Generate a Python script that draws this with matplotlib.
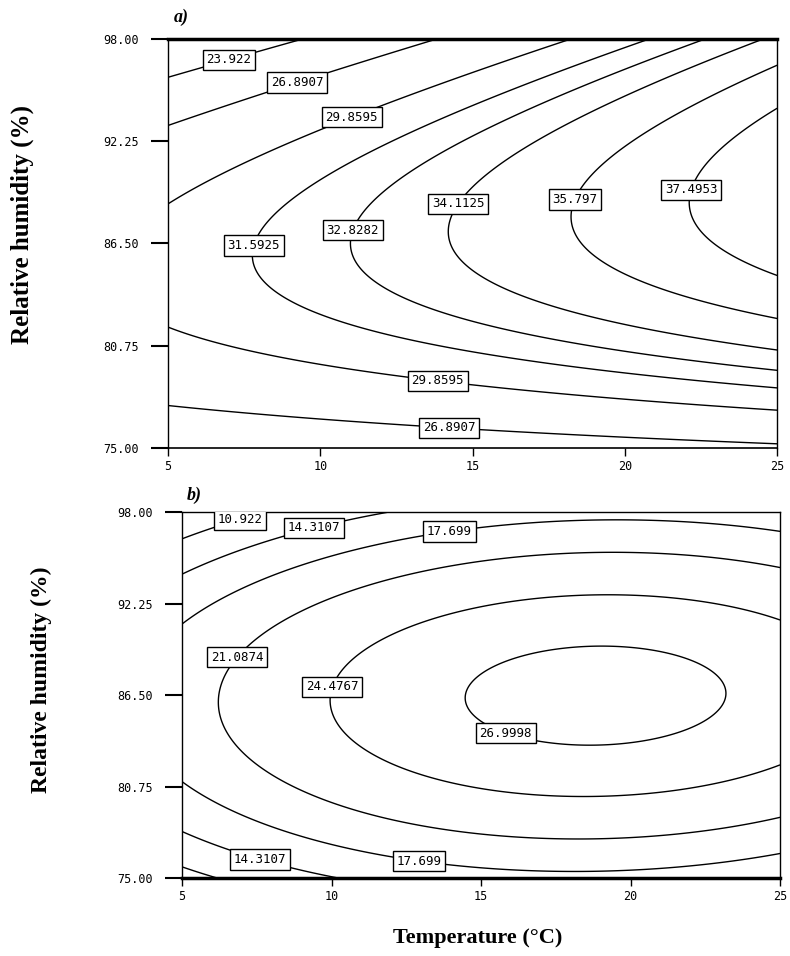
import numpy as np
import matplotlib
matplotlib.use("Agg")
import matplotlib.pyplot as plt

# ---------------- data ----------------
# Panel a: points (temperature, RH) lying on labelled contour lines
a_temp = [5, 5, 5, 5, 5,
          9.0, 13.3, 17.8, 20.4, 22.4, 24.6,
          25, 25, 25, 25, 25, 25, 25, 25, 25,
          7.6, 10.56, 13.55, 17.6, 21.7,
          9.1, 10.9, 12.6, 14.0, 14.0, 14.0]
a_rh = [95.86, 93.04, 88.53, 81.88, 77.47,
        98, 98, 98, 98, 98, 98,
        96.42, 94.0, 84.70, 82.33, 80.58, 79.45, 78.38, 77.09, 75.23,
        85.54, 86.8, 87.2, 88.0, 88.5,
        95.69, 93.83, 92.87, 97.27, 94.73, 92.48]
a_value = [23.922, 26.8907, 29.8595, 29.8595, 26.8907,
           23.922, 26.8907, 29.8595, 31.5925, 32.8282, 34.1125,
           35.797, 37.4953, 37.4953, 35.797, 34.1125, 32.8282, 31.5925, 29.8595, 26.8907,
           31.5925, 32.8282, 34.1125, 35.797, 37.4953,
           26.8907, 29.8595, 31.5925, 26.8907, 29.8595, 31.5925]
a_levels = [23.922, 26.8907, 29.8595, 31.5925, 32.8282, 34.1125, 35.797, 37.4953]
a_labels = ["23.922", "26.8907", "29.8595", "31.5925", "32.8282", "34.1125", "35.797", "37.4953"]

# Panel b
b_temp = [5, 5, 5, 5, 5,
          7.3, 12.3, 10.0,
          6.34, 9.95,
          14.4, 23.3, 18.9, 18.5,
          18.5, 18.5, 18.5, 18.5, 18.5, 18.5,
          25, 25, 25, 25, 25, 25]
b_rh = [96.24, 94.04, 90.9, 81.03, 77.95,
        98, 98, 75,
        85.75, 86.2,
        86.4, 86.6, 89.64, 83.36,
        92.78, 95.42, 97.43, 80.09, 77.45, 75.44,
        96.74, 94.54, 91.4, 81.98, 78.83, 76.63]
b_value = [10.922, 14.3107, 17.699, 17.699, 14.3107,
           10.922, 14.3107, 14.3107,
           21.0874, 24.4767,
           26.9998, 26.9998, 26.9998, 26.9998,
           24.4767, 21.0874, 17.699, 24.4767, 21.0874, 17.699,
           17.699, 21.0874, 24.4767, 24.4767, 21.0874, 17.699]
b_levels = [10.922, 14.3107, 17.699, 21.0874, 24.4767, 26.9998]
b_labels = ["10.922", "14.3107", "17.699", "21.0874", "24.4767", "26.9998"]

x_ticks = [5, 10, 15, 20, 25]
x_ticklabels = ["5", "10", "15", "20", "25"]
y_ticks = [75.0, 80.75, 86.5, 92.25, 98.0]
y_ticklabels = ["75.00", "80.75", "86.50", "92.25", "98.00"]

# label placements: (level, temperature, RH)
a_label_pos = [(23.922, 6.9, 97.44), (26.8907, 9.1, 96.26), (29.8595, 10.88, 94.28),
               (31.5925, 7.53, 86.5), (32.8282, 10.48, 87.63), (34.1125, 13.97, 89.38),
               (35.797, 17.09, 89.88), (37.4953, 21.12, 90.05),
               (29.8595, 13.87, 79.06), (26.8907, 14.26, 76.69)]
b_label_pos = [(10.922, 6.94, 97.5), (14.3107, 9.35, 97.5), (17.699, 13.9, 97.37),
               (21.0874, 7.27, 88.2), (24.4767, 9.85, 87.13), (26.9998, 15.9, 84.49),
               (14.3107, 7.68, 76.7), (17.699, 12.96, 76.57)]


def fit_surface(t, h, v):
    t = np.asarray(t, float); h = np.asarray(h, float); v = np.asarray(v, float)
    tt = (t - 15) / 10; hh = (h - 86.5) / 11.5
    A = np.column_stack([np.ones_like(tt), tt, hh, tt**2, hh**2, tt * hh])
    coef, *_ = np.linalg.lstsq(A, v, rcond=None)
    return coef


def eval_surface(coef, T, H):
    tt = (T - 15) / 10; hh = (H - 86.5) / 11.5
    return (coef[0] + coef[1] * tt + coef[2] * hh + coef[3] * tt**2
            + coef[4] * hh**2 + coef[5] * tt * hh)


Tg, Hg = np.meshgrid(np.linspace(5, 25, 300), np.linspace(75, 98, 300))

fig = plt.figure(figsize=(7.9, 9.56), dpi=100)
axa = fig.add_axes([0.2127, 0.5314, 0.771, 0.4278])
axb = fig.add_axes([0.2304, 0.0816, 0.757, 0.3828])

serif = "Liberation Serif"
mono = "DejaVu Sans Mono"


def draw(ax, t, h, v, levels, labels, pos, top_w, bot_w):
    coef = fit_surface(t, h, v)
    Z = eval_surface(coef, Tg, Hg)
    texts = []
    for lv, lb in zip(levels, labels):
        cs = ax.contour(Tg, Hg, Z, levels=[lv], colors="black", linewidths=1.0)
        spots = [(x, y) for l2, x, y in pos if l2 == lv]
        if spots:
            got = ax.clabel(cs, manual=spots, inline=False, fmt={lv: lb}, fontsize=9)
            texts.extend(got)
    for tx in texts:
        tx.set_rotation(0)
        tx.set_family(mono)
        tx.set_bbox(dict(boxstyle="square,pad=0.3", fc="white", ec="black", lw=1.0))
        tx.set_zorder(5)
    ax.set_xlim(5, 25)
    ax.set_ylim(75, 98)
    ax.set_xticks(x_ticks)
    ax.set_xticklabels(x_ticklabels, family=mono, fontsize=8.5)
    ax.set_yticks(y_ticks)
    ax.set_yticklabels(y_ticklabels, family=mono, fontsize=8.5)
    ax.tick_params(axis="y", direction="out", length=12, width=1.5, pad=9)
    ax.tick_params(axis="x", direction="out", length=6, width=1.0, pad=3)
    for s in ax.spines.values():
        s.set_linewidth(1.0)
    ax.spines["top"].set_linewidth(top_w)
    ax.spines["bottom"].set_linewidth(bot_w)


draw(axa, a_temp, a_rh, a_value, a_levels, a_labels, a_label_pos, 2.5, 1.2)
draw(axb, b_temp, b_rh, b_value, b_levels, b_labels, b_label_pos, 1.0, 2.5)

fig.text(0.230, 0.982, "a)", family=serif, weight="bold", style="italic", fontsize=13,
         ha="center", va="center")
fig.text(0.2456, 0.482, "b)", family=serif, weight="bold", style="italic", fontsize=13,
         ha="center", va="center")
fig.text(0.028, 0.765, "Relative humidity (%)", family=serif, weight="bold", fontsize=18,
         rotation=90, ha="center", va="center")
fig.text(0.052, 0.289, "Relative humidity (%)", family=serif, weight="bold", fontsize=17,
         rotation=90, ha="center", va="center")
fig.text(0.605, 0.019, "Temperature (°C)", family=serif, weight="bold", fontsize=16,
         ha="center", va="center")

fig.savefig("out.png", dpi=100)
